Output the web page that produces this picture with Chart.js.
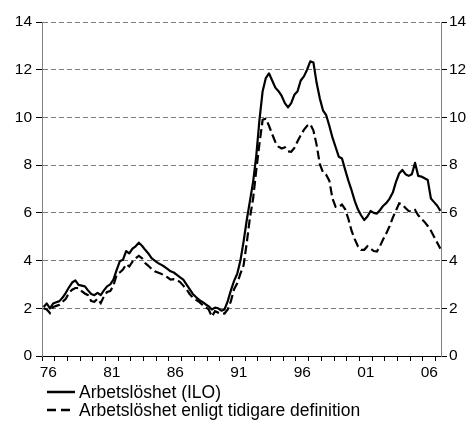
<!DOCTYPE html>
<html>
<head>
<meta charset="utf-8">
<script src="https://cdn.jsdelivr.net/npm/chart.js@4.4.1/dist/chart.umd.min.js"></script>
<style>
  html, body { margin: 0; padding: 0; background: #fff; }
  #wrap { position: relative; width: 472px; height: 425px; overflow: hidden; }
  #chart { position: absolute; left: 0; top: 0; }
  .legend { position: absolute; left: 47px; top: 383px; font-family: "Liberation Sans", Arial, sans-serif; font-size: 17.5px; color: #000; }
  .item { display: flex; align-items: center; height: 18px; white-space: nowrap; }
  .item svg { margin-right: 4px; }
</style>
</head>
<body>
<div id="wrap">
  <canvas id="chart" width="472" height="425"></canvas>
  <div class="legend" id="legend"></div>
</div>
<script>
// ---- data (quarterly, 1976 Q1 .. 2007 Q2) ----
const firstYear = 1976;
const pointsPerYear = 4;
const xMax = 2007.42;
const labelYears = [1976, 1981, 1986, 1991, 1996, 2001, 2006];
const yearLabels = ['76', '81', '86', '91', '96', '01', '06'];
const yTicks = [0, 2, 4, 6, 8, 10, 12, 14];
const seriesNames = ['Arbetslöshet (ILO)', 'Arbetslöshet enligt tidigare definition'];

const iloValues = [
  2.05, 2.2, 2.0, 2.2,
  2.25, 2.3, 2.45, 2.65,
  2.88, 3.08, 3.17, 2.98,
  2.95, 2.92, 2.75, 2.6,
  2.55, 2.65, 2.55, 2.75,
  2.92, 3.0, 3.2, 3.6,
  3.97, 4.03, 4.4, 4.3,
  4.5, 4.6, 4.75, 4.62,
  4.45, 4.3, 4.1, 4.0,
  3.9, 3.83, 3.75, 3.65,
  3.55, 3.5, 3.4, 3.3,
  3.2, 3.0, 2.8, 2.6,
  2.47, 2.35, 2.27, 2.17,
  2.08, 1.95, 2.03, 2.0,
  1.9, 1.95, 2.3, 2.75,
  3.15, 3.45, 4.0, 4.8,
  5.7, 6.5, 7.3, 8.4,
  9.9, 11.1, 11.65, 11.85,
  11.55, 11.25, 11.1, 10.9,
  10.6, 10.42, 10.6, 10.95,
  11.1, 11.55, 11.72, 12.0,
  12.35, 12.3, 11.45, 10.8,
  10.3, 10.1, 9.65, 9.15,
  8.75, 8.35, 8.28, 7.8,
  7.35, 6.95, 6.5, 6.15,
  5.9, 5.7, 5.85, 6.08,
  6.0, 5.97, 6.12, 6.3,
  6.42, 6.6, 6.85, 7.3,
  7.65, 7.8, 7.62, 7.55,
  7.62, 8.1, 7.55, 7.52,
  7.45, 7.38, 6.6, 6.45,
  6.3, 6.08
];

const oldDefValues = [
  2.0, 1.95, 1.8, 2.05,
  2.1, 2.15, 2.27, 2.4,
  2.65, 2.78, 2.85, 2.85,
  2.72, 2.62, 2.55, 2.3,
  2.27, 2.4, 2.22, 2.5,
  2.68, 2.72, 2.95, 3.4,
  3.5, 3.62, 3.85, 3.75,
  3.95, 4.1, 4.2, 4.1,
  3.9, 3.78, 3.65, 3.55,
  3.5, 3.45, 3.38, 3.3,
  3.2, 3.22, 3.18, 3.1,
  2.95, 2.8, 2.6, 2.45,
  2.35, 2.27, 2.15, 2.05,
  1.95, 1.65, 1.88, 1.82,
  1.8, 1.78, 1.95, 2.3,
  2.8, 3.05, 3.45, 3.8,
  4.75, 5.8, 6.6, 7.8,
  8.9, 9.9, 9.95, 9.65,
  9.3, 8.97, 8.77, 8.7,
  8.75, 8.58, 8.56, 8.72,
  9.0, 9.25, 9.48, 9.65,
  9.72, 9.45, 8.85, 8.05,
  7.7, 7.6, 7.35, 6.6,
  6.25, 6.25, 6.35, 6.15,
  5.75, 5.25, 4.9, 4.6,
  4.45, 4.45, 4.6, 4.5,
  4.4, 4.38, 4.62, 4.9,
  5.15, 5.45, 5.8, 6.1,
  6.4, 6.35, 6.2, 6.08,
  6.05, 6.12, 5.9, 5.75,
  5.62, 5.45, 5.25, 5.0,
  4.75, 4.5
];

const quarterTimes = iloValues.map((_, i) => firstYear + (i + 0.5) / pointsPerYear);
const yearTicks = [];
for (let y = firstYear; y <= Math.floor(xMax); y++) yearTicks.push(y);

const FONT = { family: '"Liberation Sans", Arial, sans-serif', size: 15.5 };
const GRID_GRAY = '#7a7a7a';
const pxPerYear = (441 - 42) / (xMax - firstYear);

const ctx = document.getElementById('chart').getContext('2d');
new Chart(ctx, {
  type: 'line',
  data: {
    datasets: [
      {
        label: seriesNames[0],
        data: iloValues.map((v, i) => ({ x: quarterTimes[i], y: v })),
        borderColor: '#000', borderWidth: 2.2, pointRadius: 0,
        tension: 0, borderJoinStyle: 'round', fill: false
      },
      {
        label: seriesNames[1],
        data: oldDefValues.map((v, i) => ({ x: quarterTimes[i], y: v })),
        borderColor: '#000', borderWidth: 2.2, pointRadius: 0,
        borderDash: [9, 4], tension: 0, fill: false
      }
    ]
  },
  options: {
    responsive: false,
    animation: false,
    devicePixelRatio: 1,
    layout: { padding: { top: 22, bottom: 39, left: 0, right: 0 } },
    plugins: { legend: { display: false }, tooltip: { enabled: false } },
    scales: {
      x: {
        type: 'linear', position: 'bottom', min: firstYear, max: xMax,
        afterBuildTicks: s => { s.ticks = yearTicks.map(v => ({ value: v })); },
        afterFit: s => { s.height = 30; },
        ticks: {
          autoSkip: false, maxRotation: 0, minRotation: 0, padding: 2,
          labelOffset: pxPerYear / 2, color: '#000', font: FONT,
          callback: v => { const i = labelYears.indexOf(v); return i >= 0 ? yearLabels[i] : ''; }
        },
        grid: { drawOnChartArea: false, tickLength: 5, tickColor: '#000', tickWidth: 1 },
        border: { color: '#000', width: 1 }
      },
      y: {
        type: 'linear', position: 'left', min: 0, max: 14,
        afterBuildTicks: s => { s.ticks = yTicks.map(v => ({ value: v })); },
        afterFit: s => { s.width = 42; },
        ticks: { color: '#000', font: FONT, padding: 4 },
        grid: {
          color: c => (c.tick && c.tick.value === 0) ? 'rgba(0,0,0,0)' : GRID_GRAY,
          lineWidth: 1, tickLength: 6, tickColor: '#000'
        },
        border: { color: '#808080', width: 1, dash: [5, 3] }
      },
      y2: {
        type: 'linear', position: 'right', min: 0, max: 14,
        afterBuildTicks: s => { s.ticks = yTicks.map(v => ({ value: v })); },
        afterFit: s => { s.width = 31; },
        ticks: { color: '#000', font: FONT, padding: 2 },
        grid: { drawOnChartArea: false, tickLength: 6, tickColor: '#000' },
        border: { color: '#808080', width: 1 }
      }
    }
  }
});

// HTML legend built from the series names
const legend = document.getElementById('legend');
seriesNames.forEach((name, i) => {
  const row = document.createElement('div');
  row.className = 'item';
  const dash = i === 1 ? ' stroke-dasharray="9 5"' : '';
  row.innerHTML = '<svg width="28" height="6"><line x1="0" y1="3" x2="28" y2="3" stroke="#000" stroke-width="2.5"' + dash + '/></svg><span></span>';
  row.querySelector('span').textContent = name;
  legend.appendChild(row);
});
</script>
</body>
</html>
